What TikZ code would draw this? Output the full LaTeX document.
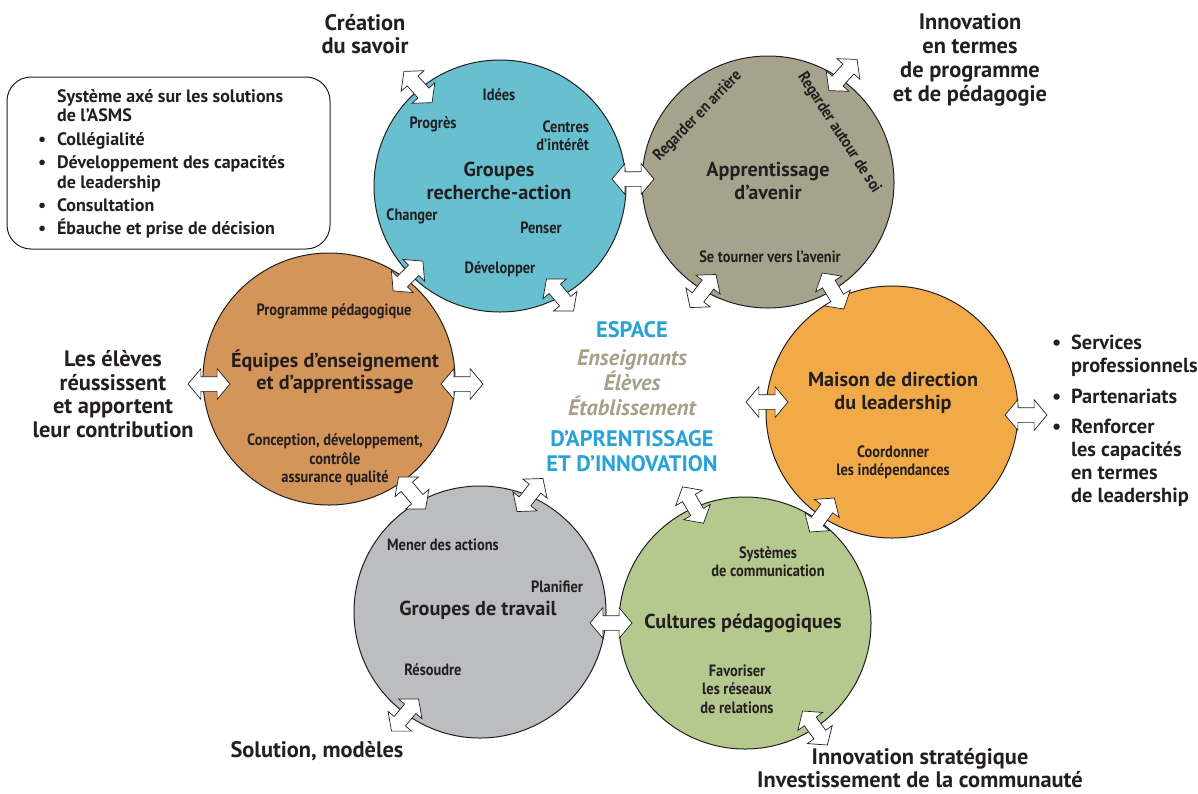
\documentclass[tikz,border=0pt]{standalone}
\usepackage{fontspec}
\setmainfont{PT Sans}
\newfontfamily\condfont{PT Sans}[FakeStretch=0.88]
\usetikzlibrary{shapes.arrows}

\definecolor{ink}{HTML}{231F20}
\definecolor{cgra}{HTML}{67BFCF}
\definecolor{capa}{HTML}{A6A28B}
\definecolor{cmdl}{HTML}{F2AA48}
\definecolor{ccup}{HTML}{B5C98F}
\definecolor{cgdt}{HTML}{BCBDC1}
\definecolor{ceea}{HTML}{D4955A}
\definecolor{espblue}{HTML}{29A3D6}
\definecolor{espgrey}{HTML}{A5A088}

\newcommand\itm{\makebox[9.5pt][l]{\textbullet}}
\newcommand\nob{\hspace*{9.5pt}}

\tikzset{
  circ/.style={circle, draw=ink, line width=0.5pt, minimum size=126pt, inner sep=0pt},
  title/.style={font=\bfseries\fontsize{10.1}{11.3}\selectfont, align=center, text=ink},
  small/.style={font=\condfont\bfseries\fontsize{8.2}{9.2}\selectfont, align=center, text=ink},
  outer/.style={font=\bfseries\fontsize{11.2}{11.9}\selectfont, align=center, text=ink},
  dbl/.style={double arrow, draw=ink, fill=white, line width=0.35pt,
    minimum height=21pt, inner xsep=0pt, inner ysep=3.5pt, double arrow head extend=4pt,
    double arrow tip angle=100},
}

\begin{document}
\begin{tikzpicture}[x=0.5pt,y=-0.5pt]
\useasboundingbox (0,0) rectangle (1198,793);

\node [circ, fill=cgra] (gra) at (500,186) {};
\node [circ, fill=capa] (apa) at (768,182) {};
\node [circ, fill=cmdl] (mdl) at (892,412) {};
\node [circ, fill=ccup] (cup) at (745,623) {};
\node [circ, fill=cgdt] (gdt) at (480,612) {};
\node [circ, fill=ceea] (eea) at (329,379) {};

\node [title] (gra-t) at (499,181) {Groupes\\recherche-action};
\node [small] (idees)    at (499,95)  {Idées};
\node [small] (progres)  at (433,124) {Progrès};
\node [small, align=right, anchor=east] (centres) at (596,136) {Centres\\d’intérêt};
\node [small] (changer)  at (412,216) {Changer};
\node [small] (penser)   at (541,228) {Penser};
\node [small] (develop)  at (500,269) {Développer};

\node [title] (apa-t) at (768,181) {Apprentissage\\d’avenir};
\node [small, rotate=46]  (arriere) at (698,116) {Regarder en arrière};
\node [small, rotate=-57] (autour)  at (839,133) {Regarder autour de soi};
\node [small] (tourner) at (770,257) {Se tourner vers l’avenir};

\node [title] (mdl-t) at (893,393) {Maison de direction\\du leadership};
\node [small] (coord) at (893,462) {Coordonner\\les indépendances};

\node [title] (cup-t) at (743,623) {Cultures pédagogiques};
\node [small] (systemes) at (768,562) {Systèmes\\de communication};
\node [small] (favor)    at (737,689) {Favoriser\\les réseaux\\de relations};

\node [title] (gdt-t) at (478,610) {Groupes de travail};
\node [small] (mener)    at (443,545) {Mener des actions};
\node [small] (planif)   at (557,587) {Planifier};
\node [small] (resoudre) at (433,670) {Résoudre};

\node [title] (eea-t) at (335,372) {Équipes d’enseignement\\et d’apprentissage};
\node [small] (progped) at (334,311) {Programme pédagogique};
\node [small] (concep)  at (335,460) {Conception, développement,\\contrôle\\assurance qualité};

\node [font=\bfseries\fontsize{11.2}{12.5}\selectfont, align=center] (esp) at (632,397)
  {\textcolor{espblue}{ESPACE}\\[1.5pt]
   \textcolor{espgrey}{\itshape Enseignants}\\
   \textcolor{espgrey}{\itshape Élèves}\\
   \textcolor{espgrey}{\itshape Établissement}\\[3pt]
   \textcolor{espblue}{D’APRENTISSAGE}\\
   \textcolor{espblue}{ET D’INNOVATION}};

\node [outer] (savoir) at (365,34)  {Création\\du savoir};
\node [outer] (innov)  at (970,60)  {Innovation\\en termes\\de programme\\et de pédagogie};
\node [outer] (eleves) at (113,394) {Les élèves\\réussissent\\et apportent\\leur contribution};
\node [outer] (sol)    at (317,751) {Solution, modèles};
\node [outer, inner sep=1pt] (strat) at (920,768) {Innovation stratégique\\Investissement de la communauté};
\node [outer, font=\bfseries\fontsize{10.2}{11.6}\selectfont, align=left, anchor=west] (svc) at (1045,421)
  {\itm Services\\\nob professionnels\\[3.5pt]
   \itm Partenariats\\[3.5pt]
   \itm Renforcer\\\nob les capacités\\\nob en termes\\\nob de leadership};

\draw [ink, line width=0.5pt, rounded corners=12pt] (7,77) rectangle (330,249);
\node [font=\bfseries\fontsize{9}{9.7}\selectfont, align=left, anchor=west, text=ink] (asms) at (31,164)
  {\nob Système axé sur les solutions\\\nob de l’ASMS\\[2pt]
   \itm Collégialité\\[2pt]
   \itm Développement des capacités\\\nob de leadership\\[2pt]
   \itm Consultation\\[2pt]
   \itm Ébauche et prise de décision};

\foreach \n/\p/\r in {grasav/{418,87}/132, graapa/{633,179}/0, graesp/{560,295}/-50,
    graeea/{408,276}/45, apainn/{843,75}/48, apaesp/{703,291}/52, apamdl/{833,291}/-59,
    mdlesp/{767,402}/0, mdlsvc/{1026,415}/0, mdlcup/{822,515}/54, cupesp/{693,505}/-60,
    cupgdt/{611,623}/0, cupstr/{815,728}/-54, gdtesp/{530,495}/52, gdteea/{412,493}/-50,
    gdtsol/{405,715}/50, eeaele/{209,384}/0, eeaesp/{462,384}/0}
  \node [dbl, rotate=\r] (\n) at (\p) {};
\end{tikzpicture}
\end{document}
